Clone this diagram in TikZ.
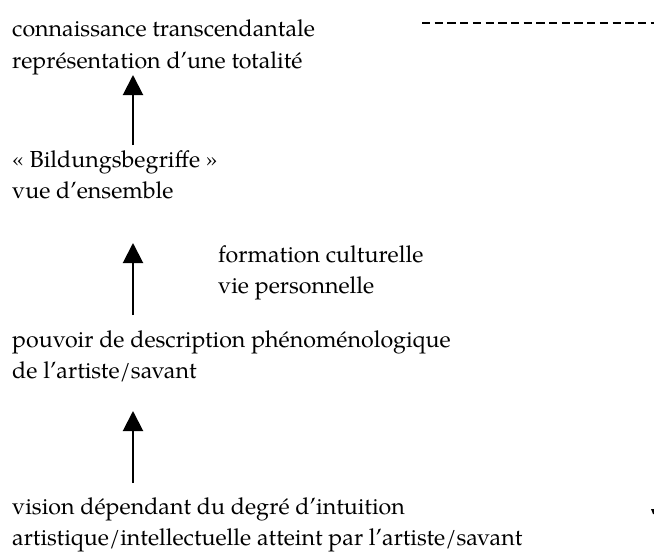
\documentclass[tikz,border=0pt]{standalone}
\usepackage{fontspec}
\setmainfont{TeX Gyre Pagella}
\usetikzlibrary{arrows.meta}
\begin{document}
\begin{tikzpicture}[x=1pt,y=-1pt,
  txt/.style={anchor=base west, inner sep=0pt, font=\fontsize{23.2}{28}\selectfont},
  up/.style={line width=2pt, -{Triangle[width=20pt,length=20pt]}},
  dashline/.style={line width=2pt, dash pattern=on 8.3pt off 4.4pt}]
\useasboundingbox (0,0) rectangle (654,552);
% texts
\node[txt] (t1a) at (12,36) {connaissance transcendantale};
\node[txt] (t1b) at (12,68) {représentation d’une totalité};
\node[txt] (t2a) at (12,167) {«~Bildungsbegriffe~»};
\node[txt] (t2b) at (12,198) {vue d’ensemble};
\node[txt] (t3a) at (218,262) {formation culturelle};
\node[txt] (t3b) at (218,293) {vie personnelle};
\node[txt] (t4a) at (12,347) {pouvoir de description phénoménologique};
\node[txt] (t4b) at (12,378) {de l’artiste/savant};
\node[txt] (t5a) at (12,514) {vision dépendant du degré d’intuition};
\node[txt] (t5b) at (12,545) {artistique/intellectuelle atteint par l’artiste/savant};
% arrows
\coordinate (a1s) at (133,145);
\coordinate (a1e) at (133,75);
\coordinate (a2s) at (133,315);
\coordinate (a2e) at (133,243);
\coordinate (a3s) at (133,483);
\coordinate (a3e) at (133,411);
\draw[up] (a1s) -- (a1e);
\draw[up] (a2s) -- (a2e);
\draw[up] (a3s) -- (a3e);
% dashed line
\coordinate (d1) at (422,23);
\coordinate (d2) at (654,23);
\draw[dashline] (d1) -- (d2);
% small cut-off mark
\fill (651,509) -- (654,509) -- (654,514) -- (653,514) -- cycle;
\end{tikzpicture}
\end{document}
